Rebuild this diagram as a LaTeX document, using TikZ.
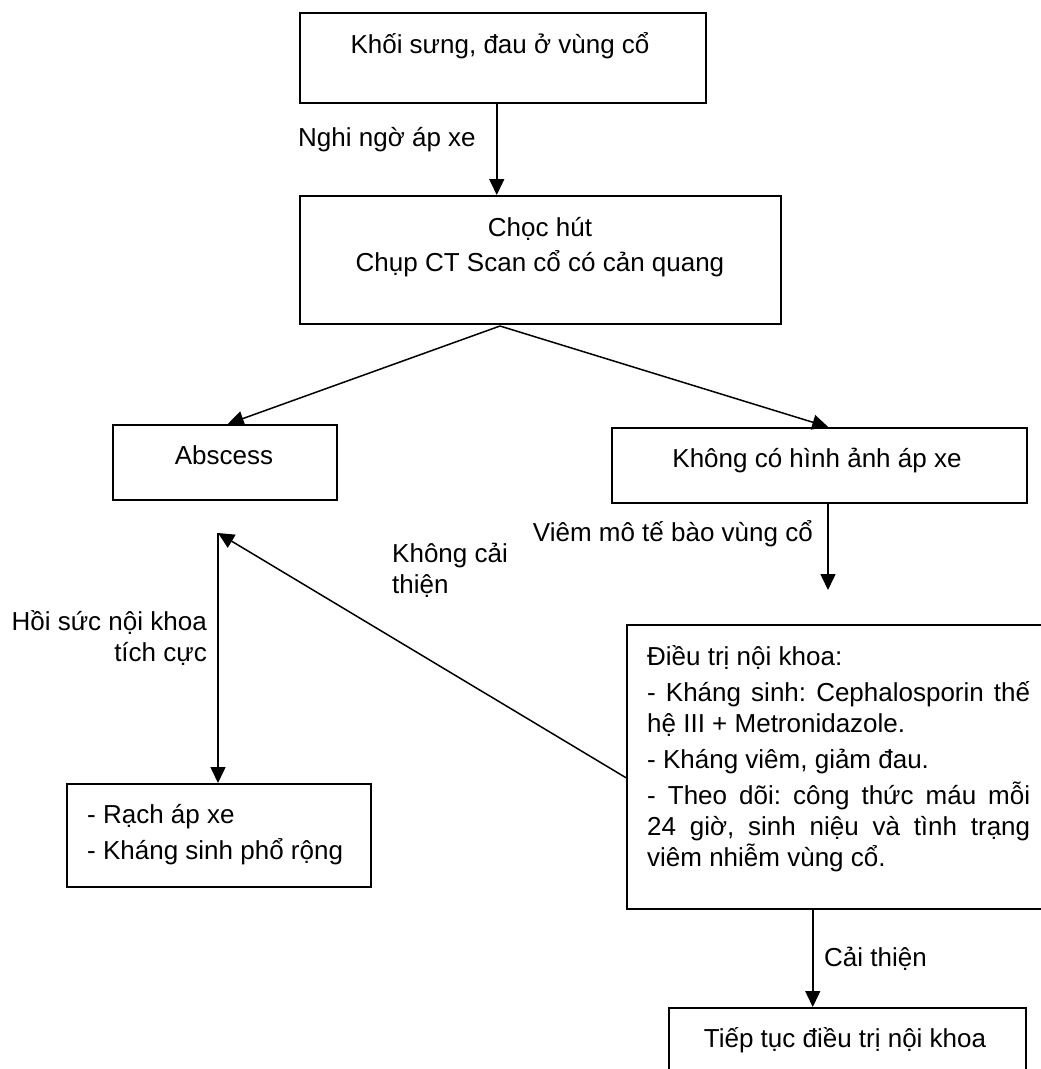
\documentclass[tikz,border=0pt]{standalone}
\usepackage{fontspec}
\setmainfont{Liberation Sans}
\usetikzlibrary{arrows.meta}
\frenchspacing

\begin{document}
\begin{tikzpicture}[x=1pt,y=-1pt,
  box/.style={draw,line width=1.5pt,inner sep=0pt,anchor=north west},
  arr/.style={line width=1.5pt,-{Triangle[length=16pt,width=15pt]}},
  txt/.style={inner sep=0pt,font=\fontsize{26}{31}\selectfont}]
\useasboundingbox (0,0) rectangle (1041,1069);

% boxes: name/left/top/width/height
\foreach \n/\x/\y/\w/\h in {swell/299/12/406/90,probe/299/195/481/128,absc/112/424/224/75,noimg/611/427/415/75,incise/66/783/304/103,medic/626/624/428/284,cont/668/1007/357/80}{
\node[box,minimum width=\w pt,minimum height=\h pt] (\n) at (\x,\y) {};
}

\node[txt,anchor=base] (swelltxt) at (500,53) {Khối sưng, đau ở vùng cổ};
\node[txt,anchor=base,align=center] (probetxt) at (540,271) {Chọc hút\\[4pt]Chụp CT Scan cổ có cản quang};
\node[txt,anchor=base] (absctxt) at (224,464) {Abscess};
\node[txt,anchor=base] (noimgtxt) at (817,467) {Không có hình ảnh áp xe};
\node[txt,anchor=base west,align=left] (incisetxt) at (87,859) {- Rạch áp xe\\[5pt]- Kháng sinh phổ rộng};
\node[txt,anchor=base west,text width=383pt,align=justify] (medictxt) at (647,665) {\parindent=0pt\parskip=5pt
Điều trị nội khoa:\par
- Kháng sinh: Cephalosporin thế\linebreak hệ III + Metronidazole.\par
- Kháng viêm, giảm đau.\par
- Theo dõi: công thức máu mỗi\linebreak 24 giờ, sinh niệu và tình trạng\linebreak viêm nhiễm vùng cổ.\par};
\node[txt,anchor=base] (conttxt) at (845,1047) {Tiếp tục điều trị nội khoa};

% labels on the arrows
\node[txt,anchor=base west] (suspect) at (298,146) {Nghi ngờ áp xe};
\node[txt,anchor=base east] (cellulitis) at (813,541) {Viêm mô tế bào vùng cổ};
\node[txt,anchor=base west,align=left] (fail) at (392,593) {Không cải\\thiện};
\node[txt,anchor=base east,align=right] (resus) at (207,661) {Hồi sức nội khoa\\tích cực};
\node[txt,anchor=base west] (better) at (824,966) {Cải thiện};

\coordinate (split) at (500,326);
\coordinate (gap) at (828,590);
\coordinate (rejoin) at (218,533);

\draw[arr] ([xshift=-6pt]swell.south) -- ([xshift=-6pt]probe.north -| swell.south);
\draw[arr] (split) -- ([xshift=3pt]absc.north);
\draw[arr] (split) -- ([xshift=9pt]noimg.north);
\draw[arr] (noimg.south -| gap) -- (gap);
\draw[arr] ([yshift=-11pt]medic.west) -- (rejoin);
\draw[arr] (rejoin) -- (rejoin |- incise.north);
\draw[arr] ([xshift=-28pt]medic.south) -- ([xshift=-28pt]cont.north -| medic.south);

\end{tikzpicture}
\end{document}
